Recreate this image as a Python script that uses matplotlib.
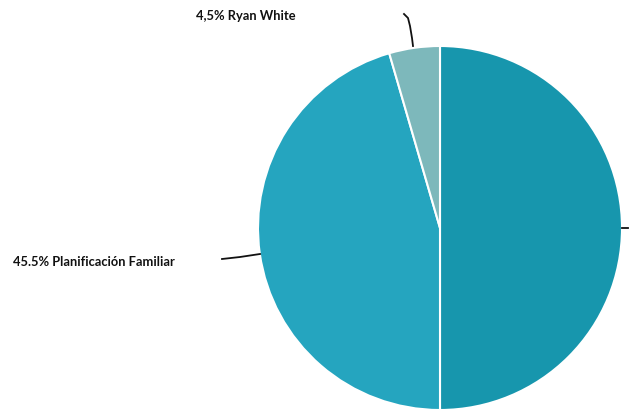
import matplotlib
matplotlib.use("Agg")
import matplotlib.pyplot as plt

labels = ["", "45.5% Planificación Familiar", "4,5% Ryan White"]
values = [50.0, 45.5, 4.5]
colors = ["#1796ad", "#25a5bf", "#7db8bb"]

W, H = 632, 411
fig = plt.figure(figsize=(W / 100, H / 100), dpi=100)
ax = fig.add_axes([0, 0, 1, 1])

cx, cy, r = 440, H - 228, 182
ax.pie(values, colors=colors, startangle=90, counterclock=False,
       center=(cx, cy), radius=r, frame=True,
       wedgeprops=dict(edgecolor="white", linewidth=1.5))
ax.set_xlim(0, W)
ax.set_ylim(0, H)
ax.set_aspect("equal")
ax.axis("off")

# leader lines
ax.plot([404, 408, 410, 412, 413], [H - 14, H - 18, H - 26, H - 38, H - 46],
        color="#111111", lw=1.3)
ax.plot([222, 240, 260], [H - 259, H - 257, H - 254], color="#111111", lw=1.3)
ax.plot([622, 628], [H - 228, H - 228], color="#111111", lw=1.3)

font = ["Lato", "DejaVu Sans"]
ax.text(196, H - 16, labels[2], fontsize=9.3, fontweight="bold", family=font,
        ha="left", va="center", color="#111111")
ax.text(13, H - 262, labels[1], fontsize=9.3, fontweight="bold", family=font,
        ha="left", va="center", color="#111111")

fig.savefig("out.png", dpi=100, facecolor="white")
